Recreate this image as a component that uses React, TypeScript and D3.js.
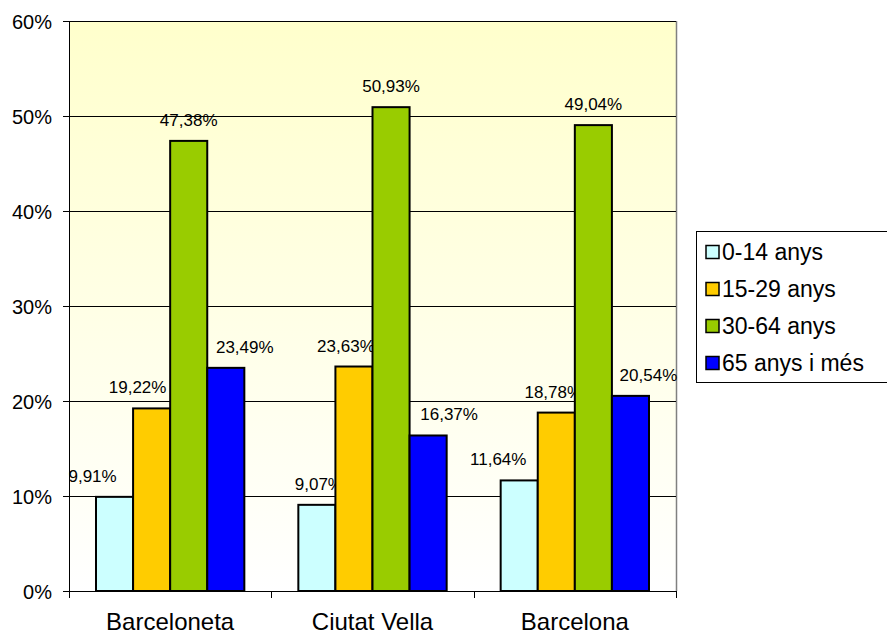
import * as d3 from "d3";
import React, { useEffect, useRef } from "react";

const categories = ["Barceloneta", "Ciutat Vella", "Barcelona"];
const series = ["0-14 anys", "15-29 anys", "30-64 anys", "65 anys i més"];
const values = [
  [9.91, 19.22, 47.38, 23.49],
  [9.07, 23.63, 50.93, 16.37],
  [11.64, 18.78, 49.04, 20.54],
];
const yTicks = [0, 10, 20, 30, 40, 50, 60];

const colors = ["#CCFFFF", "#FFCC00", "#99CC00", "#0000FF"];
// horizontal nudges of data labels, as Excel placed them to avoid overlaps
const labelDx = [
  [-22, -14, 0, 19],
  [2, -8, 0, 21],
  [-21, -3, 0, 18],
];

const CONFIG = {
  width: 887,
  height: 636,
  left: 69,
  right: 676,
  top: 21,
  bottom: 591,
  font: "'Liberation Sans', Arial, sans-serif",
};

const App: React.FC = () => {
  const svgRef = useRef<SVGSVGElement>(null);

  useEffect(() => {
    document.body.style.margin = "0";
    draw();
  }, []);

  const draw = () => {
    const svg = d3.select(svgRef.current);
    svg.selectAll("*").remove();

    const x0 = d3
      .scaleBand<string>()
      .domain(categories)
      .range([CONFIG.left, CONFIG.right]);
    const bw = x0.bandwidth();
    const x1 = d3
      .scaleBand<string>()
      .domain(series)
      .range([27, bw - 27]);
    const y = d3.scaleLinear().domain([0, 60]).range([CONFIG.bottom, CONFIG.top]);

    const grad = svg
      .append("defs")
      .append("linearGradient")
      .attr("id", "bg")
      .attr("x1", 0)
      .attr("y1", 0)
      .attr("x2", 0)
      .attr("y2", 1);
    grad.append("stop").attr("offset", "0%").attr("stop-color", "#FFFFCC");
    grad.append("stop").attr("offset", "100%").attr("stop-color", "#FFFFFF");

    svg
      .append("rect")
      .attr("x", CONFIG.left)
      .attr("y", CONFIG.top)
      .attr("width", CONFIG.right - CONFIG.left)
      .attr("height", CONFIG.bottom - CONFIG.top)
      .attr("fill", "url(#bg)");

    // right plot border
    svg
      .append("line")
      .attr("x1", CONFIG.right + 0.5)
      .attr("x2", CONFIG.right + 0.5)
      .attr("y1", CONFIG.top)
      .attr("y2", CONFIG.bottom)
      .attr("stroke", "#808080")
      .attr("stroke-width", 1.5);

    // gridlines + y ticks
    yTicks.forEach((t) => {
      const yy = Math.round(y(t)) + 0.5;
      svg
        .append("line")
        .attr("x1", CONFIG.left - 6)
        .attr("x2", CONFIG.right)
        .attr("y1", yy)
        .attr("y2", yy)
        .attr("stroke", "#000")
        .attr("stroke-width", 1);
      svg
        .append("text")
        .attr("x", 52)
        .attr("y", yy + 7)
        .attr("text-anchor", "end")
        .attr("font-family", CONFIG.font)
        .attr("font-size", 20)
        .attr("fill", "#000")
        .text(`${t}%`);
    });

    // y axis
    svg
      .append("line")
      .attr("x1", CONFIG.left + 0.5)
      .attr("x2", CONFIG.left + 0.5)
      .attr("y1", CONFIG.top)
      .attr("y2", CONFIG.bottom + 7)
      .attr("stroke", "#000");

    // category ticks and labels
    categories.forEach((c) => {
      const xx = Math.round(x0(c)! + bw) + 0.5;
      svg
        .append("line")
        .attr("x1", xx)
        .attr("x2", xx)
        .attr("y1", CONFIG.bottom)
        .attr("y2", CONFIG.bottom + 7)
        .attr("stroke", "#000");
      svg
        .append("text")
        .attr("x", x0(c)! + bw / 2)
        .attr("y", 630)
        .attr("text-anchor", "middle")
        .attr("font-family", CONFIG.font)
        .attr("font-size", 24)
        .attr("fill", "#000")
        .text(c);
    });

    // bars
    categories.forEach((c, ci) => {
      const g = svg.append("g").attr("transform", `translate(${x0(c)},0)`);
      series.forEach((s, si) => {
        const v = values[ci][si];
        g.append("rect")
          .attr("x", x1(s)!)
          .attr("y", y(v))
          .attr("width", x1.bandwidth())
          .attr("height", CONFIG.bottom - y(v))
          .attr("fill", colors[si])
          .attr("stroke", "#000")
          .attr("stroke-width", 2);
        g.append("text")
          .attr("x", x1(s)! + x1.bandwidth() / 2 + labelDx[ci][si])
          .attr("y", y(v) - 15)
          .attr("text-anchor", "middle")
          .attr("font-family", CONFIG.font)
          .attr("font-size", 17)
          .attr("fill", "#000")
          .text(`${v.toFixed(2).replace(".", ",")}%`);
      });
    });

    // x axis line
    svg
      .append("line")
      .attr("x1", CONFIG.left)
      .attr("x2", CONFIG.right)
      .attr("y1", CONFIG.bottom + 0.5)
      .attr("y2", CONFIG.bottom + 0.5)
      .attr("stroke", "#000");

    // legend
    const lg = svg.append("g").attr("transform", "translate(696,231)");
    lg.append("rect")
      .attr("x", 0.5)
      .attr("y", 0.5)
      .attr("width", 200)
      .attr("height", 151)
      .attr("fill", "#fff")
      .attr("stroke", "#000");
    series.forEach((s, i) => {
      const cy = 21 + i * 37;
      lg.append("rect")
        .attr("x", 10)
        .attr("y", cy - 6.5)
        .attr("width", 13)
        .attr("height", 13)
        .attr("fill", colors[i])
        .attr("stroke", "#000")
        .attr("stroke-width", 1.5);
      lg.append("text")
        .attr("x", 26)
        .attr("y", cy + 8)
        .attr("font-family", CONFIG.font)
        .attr("font-size", 23)
        .attr("fill", "#000")
        .text(s);
    });
  };

  return (
    <svg
      ref={svgRef}
      width={CONFIG.width}
      height={CONFIG.height}
      style={{ display: "block" }}
    />
  );
};

export default App;
